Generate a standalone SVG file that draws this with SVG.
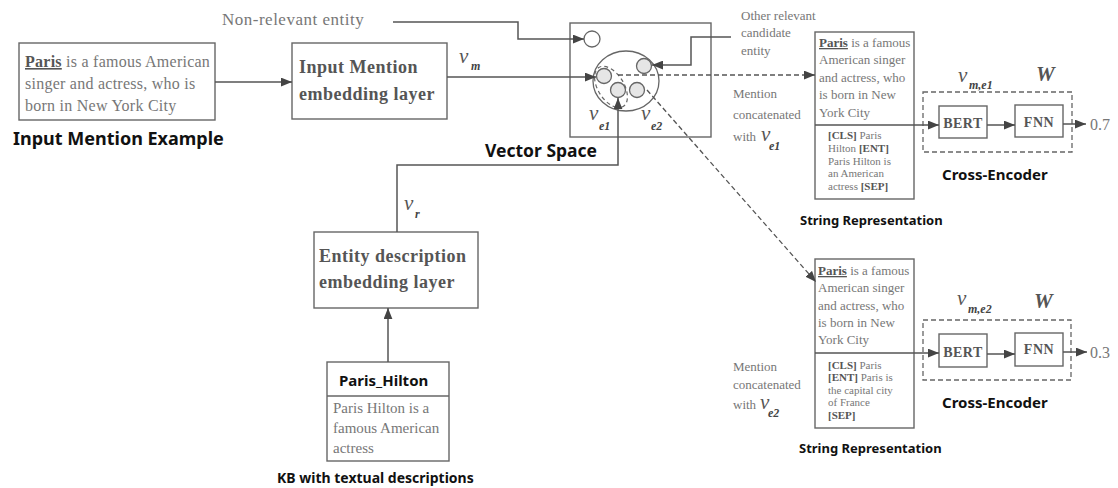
<svg xmlns="http://www.w3.org/2000/svg" width="1118" height="488" viewBox="0 0 1118 488">
<style>
.bx{fill:#fff;stroke:#666;stroke-width:1.4}
.ln{fill:none;stroke:#555;stroke-width:1.5}
.dl{fill:none;stroke:#555;stroke-width:1.3;stroke-dasharray:5,3}
.sr{font-family:"Liberation Serif",serif;fill:#777}
.sb{font-family:"Liberation Serif",serif;font-weight:bold;fill:#555;letter-spacing:0.5px}
.hd{font-family:"Noto Sans","Open Sans",sans-serif;font-weight:bold;fill:#111}
.vi{font-family:"Liberation Serif",serif;font-style:italic;fill:#555;font-size:21px}
.vs{font-family:"Liberation Serif",serif;font-style:italic;font-weight:bold;fill:#444;font-size:12px}
.b{font-weight:bold;fill:#555}
.u{font-weight:bold;fill:#555;text-decoration:underline}
.sc{fill:#e6e6e6;stroke:#666;stroke-width:1.3}
</style>
<defs>
<marker id="ah" viewBox="0 0 10 8" refX="10" refY="4" markerWidth="11" markerHeight="9" markerUnits="userSpaceOnUse" orient="auto"><path d="M0,0 L10,4 L0,8 z" fill="#444"/></marker>
</defs>

<g id="input-mention">
<rect class="bx" x="19" y="43" width="196" height="77"/>
<text class="sr" font-size="16" letter-spacing="0.25" x="25" y="67"><tspan class="u">Paris</tspan> is a famous American</text>
<text class="sr" font-size="16" letter-spacing="0.25" x="25" y="89">singer and actress, who is</text>
<text class="sr" font-size="16" letter-spacing="0.25" x="25" y="111">born in New York City</text>
<text class="hd" font-size="18" x="13" y="145">Input Mention Example</text>
</g>

<g id="mention-embedding">
<rect class="bx" x="292" y="43" width="155" height="76"/>
<text class="sb" font-size="18" x="299" y="73">Input Mention</text>
<text class="sb" font-size="18" x="299" y="100">embedding layer</text>
</g>

<g id="non-relevant-label">
<text class="sr" font-size="17" letter-spacing="0.5" x="222" y="25">Non-relevant entity</text>
</g>

<g id="vector-space">
<rect class="bx" x="570" y="23" width="141" height="114"/>
<circle cx="592" cy="39" r="8" fill="#fff" stroke="#666" stroke-width="1.3"/>
<ellipse cx="626" cy="81" rx="33" ry="30" fill="none" stroke="#666" stroke-width="1.3"/>
<ellipse cx="611" cy="87" rx="23" ry="13" transform="rotate(58 611 87)" fill="none" stroke="#666" stroke-width="1.2" stroke-dasharray="4,3"/>
<circle class="sc" cx="644" cy="66" r="7.5"/>
<circle class="sc" cx="604" cy="76" r="7.5"/>
<circle class="sc" cx="618" cy="90" r="7.5"/>
<circle class="sc" cx="637" cy="90" r="7.5"/>
<text class="vi" x="589" y="120">v</text><text class="vs" x="599" y="130">e1</text>
<text class="vi" x="641" y="120">v</text><text class="vs" x="651" y="130">e2</text>
<text class="hd" font-size="17.5" x="485" y="157">Vector Space</text>
</g>

<g id="other-relevant-label">
<text class="sr" font-size="13" x="741" y="20">Other relevant</text>
<text class="sr" font-size="13" x="741" y="37">candidate</text>
<text class="sr" font-size="13" x="741" y="55">entity</text>
</g>

<g id="entity-embedding">
<rect class="bx" x="314" y="232" width="164" height="76"/>
<text class="sb" font-size="18" x="319" y="262">Entity description</text>
<text class="sb" font-size="18" x="319" y="288">embedding layer</text>
</g>

<g id="kb-entry">
<rect class="bx" x="327" y="362" width="122" height="99"/>
<line x1="327" y1="396" x2="449" y2="396" stroke="#666" stroke-width="1.4"/>
<text class="hd" font-size="15" x="339" y="386">Paris_Hilton</text>
<text class="sr" font-size="15" x="333" y="413">Paris Hilton is a</text>
<text class="sr" font-size="15" x="333" y="433">famous American</text>
<text class="sr" font-size="15" x="333" y="453">actress</text>
<text class="hd" font-size="14" x="277" y="483">KB with textual descriptions</text>
</g>

<g id="string-rep-1">
<rect class="bx" x="815" y="32" width="99" height="167"/>
<text class="sr" font-size="13" x="819" y="47"><tspan class="u">Paris</tspan> is a famous</text>
<text class="sr" font-size="13" x="819" y="64">American singer</text>
<text class="sr" font-size="13" x="819" y="82">and actress, who</text>
<text class="sr" font-size="13" x="819" y="99">is born in New</text>
<text class="sr" font-size="13" x="819" y="117">York City</text>
<text class="sr" font-size="11" x="828" y="139"><tspan class="b">[CLS]</tspan> Paris</text>
<text class="sr" font-size="11" x="828" y="152">Hilton <tspan class="b">[ENT]</tspan></text>
<text class="sr" font-size="11" x="828" y="165">Paris Hilton is</text>
<text class="sr" font-size="11" x="828" y="177">an American</text>
<text class="sr" font-size="11" x="828" y="190">actress <tspan class="b">[SEP]</tspan></text>
<text class="hd" font-size="13" x="800" y="225">String Representation</text>
</g>

<g id="mention-concat-1">
<text class="sr" font-size="13" x="733" y="98">Mention</text>
<text class="sr" font-size="13" x="733" y="119">concatenated</text>
<text class="sr" font-size="13" x="733" y="141">with</text>
<text class="vi" font-size="17" x="761" y="141">v</text><text class="vs" font-size="10" x="769" y="150">e1</text>
</g>

<g id="cross-encoder-1">
<rect x="923" y="92" width="149" height="60" fill="none" stroke="#666" stroke-width="1.3" stroke-dasharray="5,3"/>
<rect class="bx" x="939" y="106" width="48" height="32"/>
<text class="sb" font-size="14" x="963" y="128" text-anchor="middle">BERT</text>
<rect class="bx" x="1015" y="105" width="48" height="32"/>
<text class="sb" font-size="14" x="1039" y="127" text-anchor="middle">FNN</text>
<text class="vi" x="958" y="82">v</text><text class="vs" x="969" y="89">m,e1</text>
<text class="vi" font-weight="bold" font-size="18" x="1036" y="81">W</text>
<text class="sr" font-size="16" x="1090" y="130">0.7</text>
<text class="hd" font-size="15" x="942" y="180">Cross-Encoder</text>
</g>

<g id="string-rep-2">
<rect class="bx" x="815" y="259" width="99" height="169"/>
<text class="sr" font-size="13" x="818" y="275"><tspan class="u">Paris</tspan> is a famous</text>
<text class="sr" font-size="13" x="818" y="292">American singer</text>
<text class="sr" font-size="13" x="818" y="310">and actress, who</text>
<text class="sr" font-size="13" x="818" y="327">is born in New</text>
<text class="sr" font-size="13" x="818" y="344">York City</text>
<text class="sr" font-size="11" x="828" y="369"><tspan class="b">[CLS]</tspan> Paris</text>
<text class="sr" font-size="11" x="828" y="381"><tspan class="b">[ENT]</tspan> Paris is</text>
<text class="sr" font-size="11" x="828" y="394">the capital city</text>
<text class="sr" font-size="11" x="828" y="406">of France</text>
<text class="sr" font-size="11" x="828" y="419"><tspan class="b">[SEP]</tspan></text>
<text class="hd" font-size="13" x="799" y="453">String Representation</text>
</g>

<g id="mention-concat-2">
<text class="sr" font-size="13" x="733" y="371">Mention</text>
<text class="sr" font-size="13" x="733" y="389">concatenated</text>
<text class="sr" font-size="13" x="733" y="409">with</text>
<text class="vi" font-size="17" x="760" y="409">v</text><text class="vs" font-size="10" x="768" y="417">e2</text>
</g>

<g id="cross-encoder-2">
<rect x="923" y="320" width="148" height="60" fill="none" stroke="#666" stroke-width="1.3" stroke-dasharray="5,3"/>
<rect class="bx" x="939" y="334" width="48" height="33"/>
<text class="sb" font-size="14" x="963" y="357" text-anchor="middle">BERT</text>
<rect class="bx" x="1015" y="333" width="48" height="33"/>
<text class="sb" font-size="14" x="1039" y="354" text-anchor="middle">FNN</text>
<text class="vi" x="957" y="305">v</text><text class="vs" x="968" y="313">m,e2</text>
<text class="vi" font-weight="bold" font-size="18" x="1034" y="308">W</text>
<text class="sr" font-size="16" x="1090" y="358">0.3</text>
<text class="hd" font-size="15" x="942" y="408">Cross-Encoder</text>
</g>

<g id="connectors">
<path class="ln" d="M215,82 H292" marker-end="url(#ah)"/>
<path class="ln" d="M447,77 H596" marker-end="url(#ah)"/>
<path class="ln" d="M393,22 H518 V39 H584" marker-end="url(#ah)"/>
<path class="ln" d="M731,37 H691 V65 H652" marker-end="url(#ah)"/>
<path class="ln" d="M397,232 V165 H618 V98" marker-end="url(#ah)"/>
<path class="ln" d="M388,362 V308" marker-end="url(#ah)"/>
<path class="dl" d="M618,75 H815" marker-end="url(#ah)"/>
<path class="dl" d="M647,90 L816,282" marker-end="url(#ah)"/>
<path class="ln" d="M815,125 H939" marker-end="url(#ah)"/>
<path class="ln" d="M987,125 H1015" marker-end="url(#ah)"/>
<path class="ln" d="M1063,124 H1086" marker-end="url(#ah)"/>
<path class="ln" d="M815,353 H939" marker-end="url(#ah)"/>
<path class="ln" d="M987,354 H1015" marker-end="url(#ah)"/>
<path class="ln" d="M1063,352 H1087" marker-end="url(#ah)"/>
<text class="vi" x="459" y="63">v</text><text class="vs" x="471" y="70">m</text>
<text class="vi" x="404" y="210">v</text><text class="vs" x="415" y="218">r</text>
</g>
</svg>
